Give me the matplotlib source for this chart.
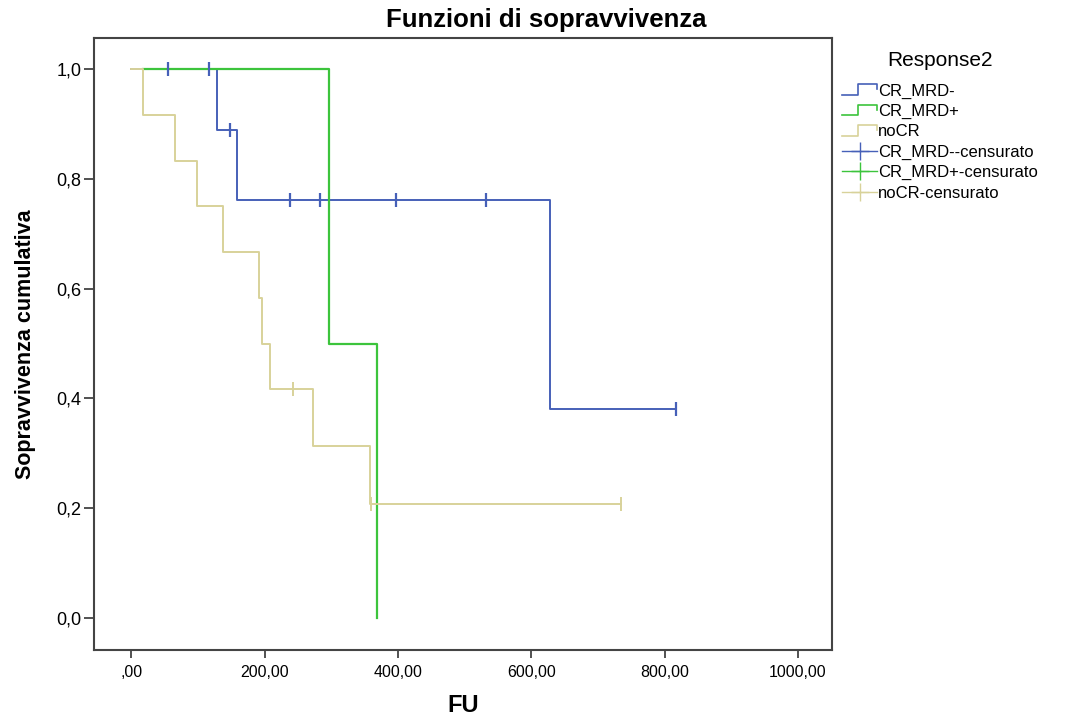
import matplotlib
matplotlib.use("Agg")
import matplotlib.pyplot as plt
from matplotlib.lines import Line2D
from matplotlib.legend_handler import HandlerBase

plt.rcParams['font.family'] = ['Liberation Sans', 'DejaVu Sans']

# step curves (time, cumulative survival)
mrdneg_t = [0, 128, 128, 159, 159, 628, 628, 817]
mrdneg_s = [1.0, 1.0, 0.889, 0.889, 0.762, 0.762, 0.381, 0.381]
mrdneg_cens_t = [55, 117, 148, 238, 283, 397, 532, 817]
mrdneg_cens_s = [1.0, 1.0, 0.889, 0.762, 0.762, 0.762, 0.762, 0.381]

mrdpos_t = [18, 297, 297, 369, 369]
mrdpos_s = [1.0, 1.0, 0.5, 0.5, 0.0]

nocr_t = [0, 18, 18, 65, 65, 99, 99, 138, 138, 192, 192, 196, 196,
          208, 208, 273, 273, 358, 358, 735]
nocr_s = [1.0, 1.0, 0.917, 0.917, 0.833, 0.833, 0.75, 0.75, 0.667, 0.667,
          0.583, 0.583, 0.5, 0.5, 0.417, 0.417, 0.313, 0.313, 0.208, 0.208]
nocr_cens_t = [243, 360, 735]
nocr_cens_s = [0.417, 0.208, 0.208]

groups = ["CR_MRD-", "CR_MRD+", "noCR"]
colors = ["#4660b8", "#3cc43c", "#d8d29a"]

xticks = [0, 200, 400, 600, 800, 1000]
xtick_labels = [",00", "200,00", "400,00", "600,00", "800,00", "1000,00"]
yticks = [0.0, 0.2, 0.4, 0.6, 0.8, 1.0]
ytick_labels = ["0,0", "0,2", "0,4", "0,6", "0,8", "1,0"]


class StepHandler(HandlerBase):
    # little step icon like the one SPSS puts in the legend
    def create_artists(self, legend, orig_handle, xdescent, ydescent,
                       width, height, fontsize, trans):
        x0 = -xdescent
        xs = [x0, x0 + width * 0.45, x0 + width * 0.45, x0 + width, x0 + width]
        lo = -ydescent + height * 0.05
        hi = -ydescent + height * 0.95
        ys = [lo, lo, hi, hi, -ydescent + height * 0.55]
        ln = Line2D(xs, ys, color=orig_handle.get_color(), lw=1.2)
        ln.set_transform(trans)
        return [ln]


fig = plt.figure(figsize=(10.66, 7.21), dpi=100)
ax = fig.add_axes([0.0882, 0.0985, 0.6923, 0.8485])

ax.plot(mrdneg_t, mrdneg_s, color=colors[0], lw=1.4, zorder=2)
ax.plot(mrdpos_t, mrdpos_s, color=colors[1], lw=1.6, zorder=3)
ax.plot(nocr_t, nocr_s, color=colors[2], lw=1.4, zorder=4)
ax.plot(mrdneg_cens_t, mrdneg_cens_s, ls='none', marker='|', ms=10,
        mew=1.6, color=colors[0], zorder=5)
ax.plot(nocr_cens_t, nocr_cens_s, ls='none', marker='|', ms=10,
        mew=1.4, color=colors[2], zorder=5)

ax.set_xlim(-56, 1051)
ax.set_ylim(-0.058, 1.056)
ax.set_xticks(xticks)
ax.set_xticklabels(xtick_labels, fontsize=11.5)
ax.set_yticks(yticks)
ax.set_yticklabels(ytick_labels, fontsize=13)
ax.tick_params(axis='x', direction='out', length=6, width=1.2, color='#333333', pad=5)
ax.tick_params(axis='y', direction='out', length=7, width=1.2, color='#333333', pad=2)
for sp in ax.spines.values():
    sp.set_linewidth(1.5)
    sp.set_color('#444444')

fig.text(0.512, 0.972, "Funzioni di sopravvivenza", fontsize=18.5, fontweight='bold',
         ha='center', va='center')
ax.set_xlabel("FU", fontsize=17, fontweight='bold', labelpad=10)
ax.set_ylabel("Sopravvivenza cumulativa", fontsize=15.5, fontweight='bold', labelpad=15)

handles = [Line2D([], [], color=c) for c in colors]
cens_handles = [Line2D([], [], color=c, marker='+', ms=13, mew=1.0, lw=1.0) for c in colors]
labels = groups + [g + "-censurato" for g in groups]
leg = fig.legend(handles + cens_handles, labels,
                 handler_map={h: StepHandler() for h in handles},
                 loc='upper left', bbox_to_anchor=(0.784, 0.939),
                 title="Response2", title_fontsize=15, fontsize=12,
                 frameon=False, handlelength=2.1, handletextpad=0.05,
                 labelspacing=0.32, borderaxespad=0.0)
leg._legend_box.sep = 10

fig.savefig("out.png", dpi=100, facecolor='white')
